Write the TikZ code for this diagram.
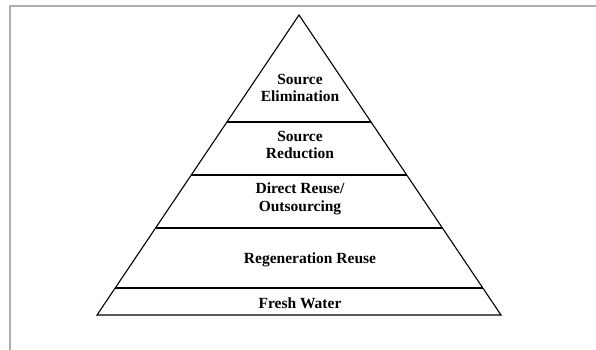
\documentclass[tikz,border=0pt]{standalone}
\usepackage{fontspec}
\setmainfont{Liberation Serif}
\begin{document}
\begin{tikzpicture}[x=1pt,y=-1pt,
    layer/.style={font=\fontsize{15.5}{17.5}\selectfont\bfseries,align=center,inner sep=0pt}]
        \useasboundingbox (0,0) rectangle (596,350);
        %frame
        \draw[line width=2.5pt,black!32](10,350)--++(0,-344)--++(586,0);
        %pyramid
        \draw[line width=1.1pt](97,315)--++(202,-300)--++(202,300)--cycle;
        %layers
        \draw[line width=1.1pt](227,122)--++(144,0);
        \draw[line width=1.1pt](191.3,175)--++(215.4,0);
        \draw[line width=1.1pt](155.6,228)--++(286.8,0);
        \draw[line width=1.1pt](115.2,288)--++(367.6,0);
        %label
        \node[layer] (elim) at (300,88){Source\\Elimination};
        \node[layer] (red) at (300,145){Source\\Reduction};
        \node[layer] (direct) at (300,199){Direct Reuse/\\Outsourcing};
        \node[layer] (regen) at (310,260){Regeneration Reuse};
        \node[layer] (fresh) at (300,303){Fresh Water};
\end{tikzpicture}
\end{document}
